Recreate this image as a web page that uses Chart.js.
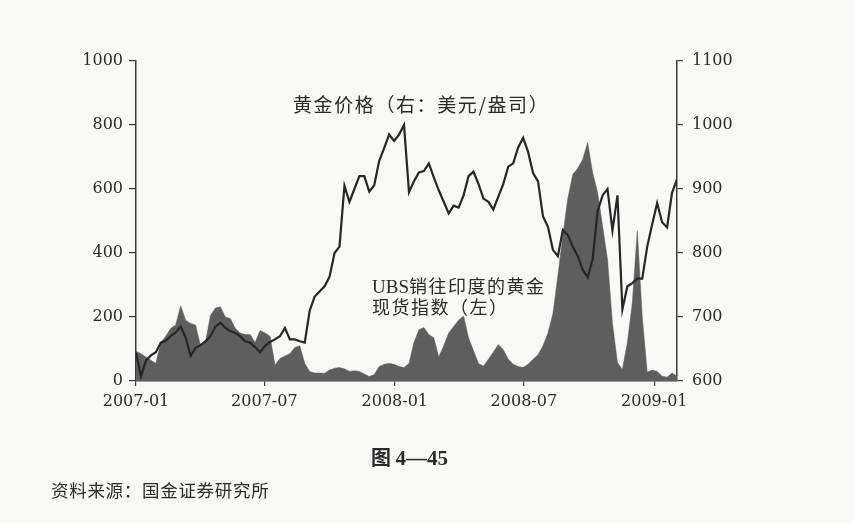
<!DOCTYPE html>
<html>
<head>
<meta charset="utf-8">
<script src="https://cdn.jsdelivr.net/npm/chart.js@4.4.1/dist/chart.umd.min.js"></script>
<style>
  html, body { margin: 0; padding: 0; background: #f8f8f6; }
  #wrap { position: relative; width: 854px; height: 523px; overflow: hidden; }
  #c { position: absolute; left: 0; top: 0; }
  .t { position: absolute; white-space: nowrap; line-height: 1; color: #2a2a2a;
       font-family: "Noto Sans CJK SC", sans-serif; }
</style>
</head>
<body>
<div id="wrap">
  <canvas id="c" width="854" height="523"></canvas>
  <div class="t" style="left:293px; top:94px; font-size:19px; letter-spacing:1.6px;">黄金价格（右：美元/盎司）</div>
  <div class="t" style="left:372px; top:276px; font-size:18px; letter-spacing:1.5px;"><span style="font-family:'Liberation Serif',serif; font-size:19px; letter-spacing:0">UBS</span>销往印度的黄金</div>
  <div class="t" style="left:372px; top:297px; font-size:18px; letter-spacing:1.5px;">现货指数（左）</div>
  <div class="t" style="left:371px; top:447px; font-size:20px; font-weight:bold;">图 <span style="font-family:'Liberation Serif',serif; font-size:21px">4—45</span></div>
  <div class="t" style="left:51px; top:481px; font-size:17.5px; letter-spacing:0.7px;">资料来源：国金证券研究所</div>
</div>
<script>
// weekly series starting 2007-01-01
const startDate = new Date(2007, 0, 1)

// gold price, USD/oz (right axis)
const goldPrice = [
  644, 607, 632, 640, 645, 660, 663, 670, 676, 685,
  668, 639, 652, 656, 662, 670, 685, 691, 683, 678,
  675, 670, 662, 660, 653, 645, 655, 661, 665, 670,
  683, 665, 665, 662, 660, 710, 732, 740, 748, 763,
  800, 810, 905, 880, 900, 920, 920, 896, 906, 944,
  964, 985, 975, 985, 1000, 895, 912, 926, 928, 940,
  918, 898, 880, 862, 874, 871, 890, 920, 927, 908,
  885, 880, 868, 888, 908, 935, 940, 965, 980, 958,
  925, 912, 857, 841, 805, 795, 836, 828, 810, 795,
  774, 762, 790, 865, 890, 900, 835, 890, 712, 748,
  753, 760, 760, 810, 845, 878, 848, 840, 894, 915
]

// UBS spot index of gold sold to India (left axis)
const ubsIndex = [
  93, 85, 75, 65, 55, 120, 140, 165, 175, 235,
  190, 180, 175, 110, 122, 205, 228, 232, 200, 195,
  165, 150, 145, 145, 120, 158, 150, 140, 50, 70,
  78, 85, 105, 110, 55, 30, 25, 25, 24, 34,
  40, 42, 38, 30, 32, 30, 22, 14, 20, 45,
  52, 55, 52, 45, 42, 55, 120, 160, 167, 145,
  135, 75, 110, 150, 170, 190, 203, 135, 95, 55,
  46, 68, 90, 114, 98, 68, 52, 45, 42, 52,
  68, 82, 110, 150, 210, 330, 455, 570, 645, 665,
  692, 745, 651, 589, 485, 380, 180, 58, 36, 120,
  245, 470, 200, 27, 34, 30, 15, 12, 25, 15
]

const tickLabels = ['2007-01', '2007-07', '2008-01', '2008-07', '2009-01']

const weekOf = (label) => {
  const [y, m] = label.split('-').map(Number)
  return (new Date(y, m - 1, 1) - startDate) / (7 * 24 * 3600 * 1000)
}
const tickWeeks = tickLabels.map(weekOf)

const toPoints = (arr) => arr.map((v, i) => ({ x: i, y: v }))

const axisColor = '#3a3a3a'
const tickFont = { family: 'DejaVu Serif', size: 16 }
const plain = (v) => String(v)

new Chart('c', {
  type: 'line',
  data: {
    datasets: [
      {
        label: '黄金价格',
        data: toPoints(goldPrice),
        yAxisID: 'yR',
        borderColor: '#262626',
        borderWidth: 2.2,
        pointRadius: 0,
        tension: 0,
        fill: false
      },
      {
        label: 'UBS',
        data: toPoints(ubsIndex),
        yAxisID: 'yL',
        borderColor: '#5a5a5a',
        borderWidth: 0.5,
        backgroundColor: '#5e5e5e',
        pointRadius: 0,
        tension: 0,
        fill: 'origin'
      }
    ]
  },
  options: {
    responsive: false,
    animation: false,
    devicePixelRatio: 1,
    layout: { padding: { left: 0, right: 0, top: 61, bottom: 102 } },
    plugins: { legend: { display: false }, tooltip: { enabled: false } },
    scales: {
      x: {
        type: 'linear',
        min: 0,
        max: goldPrice.length - 1,
        afterBuildTicks: (scale) => { scale.ticks = tickWeeks.map(v => ({ value: v })) },
        afterFit: (scale) => { scale.height = 40 },
        ticks: {
          autoSkip: false,
          maxRotation: 0,
          padding: 6,
          color: '#2a2a2a',
          font: tickFont,
          callback: (value, index) => tickLabels[index]
        },
        grid: { drawOnChartArea: false, drawTicks: true, tickLength: 5, color: axisColor, lineWidth: 1.2 },
        border: { display: true, color: axisColor, width: 1.5 }
      },
      yL: {
        position: 'left',
        min: 0,
        max: 1000,
        afterFit: (scale) => { scale.width = 136 },
        ticks: { stepSize: 200, padding: 6, color: '#2a2a2a', font: tickFont, callback: plain },
        grid: { drawOnChartArea: false, drawTicks: true, tickLength: 7, color: axisColor, lineWidth: 1.2 },
        border: { display: true, color: axisColor, width: 1.5 }
      },
      yR: {
        position: 'right',
        min: 600,
        max: 1100,
        afterFit: (scale) => { scale.width = 177 },
        ticks: { stepSize: 100, padding: 9, color: '#2a2a2a', font: tickFont, callback: plain },
        grid: { drawOnChartArea: false, drawTicks: true, tickLength: 6, color: axisColor, lineWidth: 1.2 },
        border: { display: true, color: axisColor, width: 1.5 }
      }
    }
  }
})
</script>
</body>
</html>
